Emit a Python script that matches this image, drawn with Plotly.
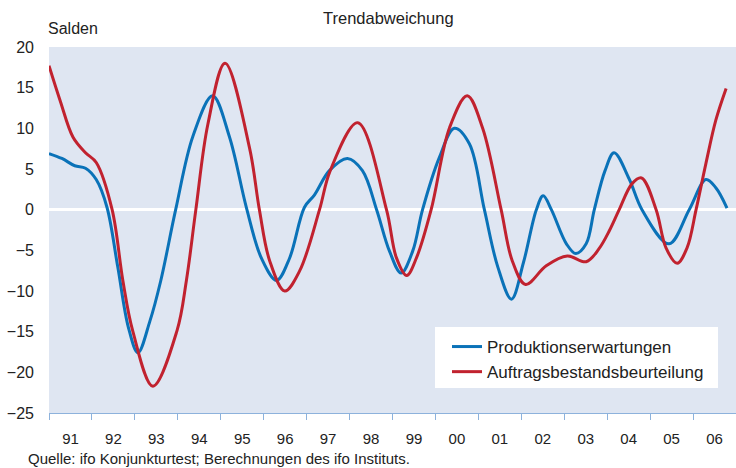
import plotly.graph_objects as go

# Produktionserwartungen (decimal year, Saldo Trendabweichung)
prod_x = [1991.0, 1991.3, 1991.6, 1991.85, 1992.1, 1992.35, 1992.6, 1992.85, 1993.07, 1993.35,
          1993.6, 1993.95, 1994.35, 1994.81, 1995.2, 1995.6, 1995.95, 1996.3, 1996.6, 1996.95,
          1997.18, 1997.53, 1997.95, 1998.3, 1998.63, 1998.93, 1999.2, 1999.47, 1999.7, 2000.09,
          2000.44, 2000.79, 2001.14, 2001.45, 2001.77, 2002.05, 2002.35, 2002.51, 2002.7, 2003.05,
          2003.27, 2003.51, 2003.7, 2003.95, 2004.16, 2004.51, 2004.81, 2005.44, 2005.91,
          2006.3, 2006.53, 2006.79]
prod_y = [6.9, 6.3, 5.4, 5.1, 3.7, 0.3, -7.0, -14.5, -17.6, -13.7,
          -8.8, 0.0, 9.0, 14.0, 9.0, 0.2, -6.0, -8.7, -6.0, 0.3,
          1.8, 4.8, 6.3, 4.8, 0.0, -5.1, -7.8, -5.1, 0.0, 6.4,
          10.0, 8.1, 0.0, -7.0, -11.0, -6.5, 0.0, 1.7, 0.0, -4.2,
          -5.4, -4.2, 0.0, 4.8, 7.0, 3.8, 0.0, -4.2, 0.0,
          3.7, 2.7, 0.2]

# Auftragsbestandsbeurteilung
auft_x = [1991.0, 1991.26, 1991.56, 1991.85, 1992.1, 1992.47, 1992.72, 1992.95,
          1993.42, 1993.98, 1994.2, 1994.42, 1994.7, 1995.1, 1995.67, 1995.9,
          1996.14, 1996.49, 1996.84, 1997.3, 1997.55, 1998.19, 1998.86, 1999.09,
          1999.33, 1999.56, 1999.9, 2000.33, 2000.74, 2001.1, 2001.53, 2001.79, 2002.1, 2002.58,
          2003.07, 2003.51, 2003.81, 2004.05, 2004.28, 2004.58, 2004.8, 2005.14, 2005.37, 2005.63,
          2005.86, 2006.07, 2006.3, 2006.53, 2006.77]
auft_y = [17.7, 13.4, 8.9, 7.0, 5.8, 0.0, -8.7, -14.9,
          -21.7, -14.9, -8.7, 0.0, 10.5, 18.0, 7.6, 0.0,
          -6.3, -10.0, -7.5, 0.0, 4.8, 10.7, 0.0, -5.9,
          -8.1, -5.9, 0.0, 10.1, 14.0, 10.0, 0.0, -6.3, -9.2, -6.9,
          -5.7, -6.4, -4.8, -2.6, 0.0, 3.2, 3.9, 0.0, -4.7, -6.6,
          -4.7, 0.0, 5.7, 11.0, 14.9]

year_labels = ["91", "92", "93", "94", "95", "96", "97", "98", "99",
               "00", "01", "02", "03", "04", "05", "06"]
years = list(range(1991, 2007))
y_ticks = [20, 15, 10, 5, 0, -5, -10, -15, -20, -25]

BLUE = "#0a72b8"
RED = "#c1222f"
BG = "#dfe6f2"
FONT = "Liberation Sans, Arial, sans-serif"

L, R, T, B = 49, 736, 47, 413
PW, PH = R - L, B - T

fig = go.Figure()
fig.add_trace(go.Scatter(x=prod_x, y=prod_y, mode="lines", name="Produktionserwartungen",
                         line=dict(color=BLUE, width=3, shape="spline", smoothing=1.0)))
fig.add_trace(go.Scatter(x=auft_x, y=auft_y, mode="lines", name="Auftragsbestandsbeurteilung",
                         line=dict(color=RED, width=3, shape="spline", smoothing=1.0)))

fig.update_layout(
    width=736, height=468,
    margin=dict(l=L, r=736 - R, t=T, b=468 - B, autoexpand=False),
    paper_bgcolor="white", plot_bgcolor=BG,
    font=dict(family=FONT, color="#222222", size=16),
    showlegend=True,
    legend=dict(x=(447 - L) / PW, y=(B - 329) / PH, xanchor="left", yanchor="top",
                bgcolor="rgba(0,0,0,0)", borderwidth=0,
                font=dict(size=17, family=FONT, color="#222222"),
                tracegroupgap=9, itemwidth=30),
    shapes=[dict(type="rect", xref="paper", yref="paper",
                 x0=(435 - L) / PW, x1=(718 - L) / PW,
                 y0=(B - 388) / PH, y1=(B - 327) / PH,
                 fillcolor="white", line=dict(width=0), layer="below")],
    annotations=[
        dict(text="Trendabweichung", xref="paper", yref="paper", x=(388 - L) / PW, y=(B - 18) / PH,
             xanchor="center", yanchor="middle", showarrow=False, font=dict(size=16.5)),
        dict(text="Salden", xref="paper", yref="paper", x=0, y=(B - 28) / PH, xshift=-3,
             xanchor="left", yanchor="middle", showarrow=False, font=dict(size=16)),
        dict(text="Quelle: ifo Konjunkturtest; Berechnungen des ifo Instituts.", xref="paper",
             yref="paper", x=(28 - L) / PW, y=(B - 458) / PH, xshift=-2, xanchor="left",
             yanchor="middle", showarrow=False, font=dict(size=15)),
    ],
)

fig.update_xaxes(range=[1991, 2007], tickmode="array",
                 tickvals=[y + 0.5 for y in years], ticktext=year_labels,
                 ticks="", showgrid=False, zeroline=False, automargin=False,
                 showline=True, linecolor="#8db2dc", linewidth=1,
                 tickfont=dict(size=15), ticklabelstandoff=12,
                 minor=dict(tickmode="array", tickvals=years + [2007], ticks="outside",
                            ticklen=6, tickcolor="#8db2dc", tickwidth=1, showgrid=False))
fig.update_yaxes(range=[-25, 20], tickmode="array", tickvals=y_ticks, automargin=False,
                 showgrid=False, zeroline=True, zerolinecolor="white", zerolinewidth=3,
                 ticks="", tickfont=dict(size=16), ticklabelstandoff=14, showline=False)

fig.write_html("out.html", config={"displayModeBar": False},
               post_script="document.body.style.margin='0px';document.body.style.overflow='hidden';")
